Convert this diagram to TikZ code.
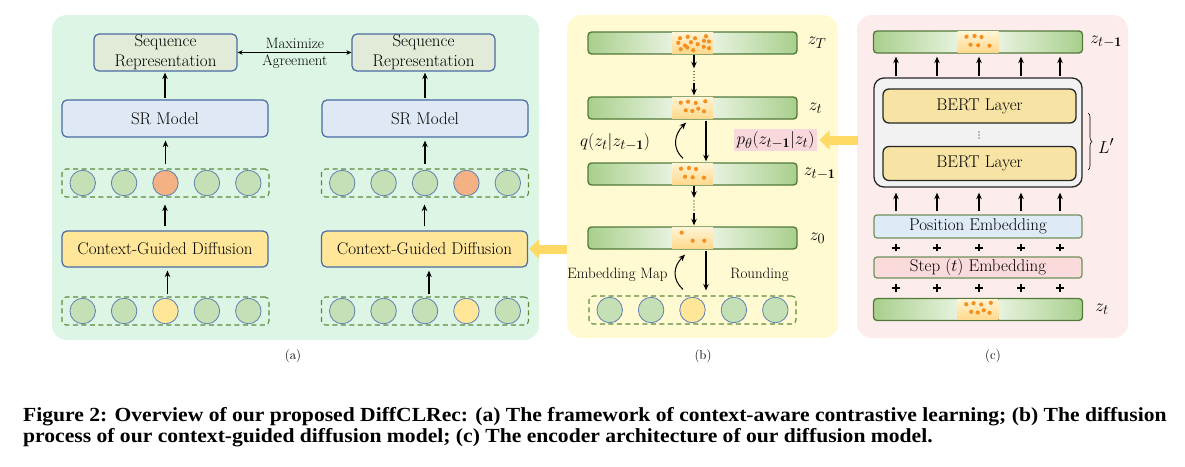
\documentclass[tikz,border=0pt]{standalone}
\usepackage{amsmath}
\usepackage{fontspec}
\newfontfamily\capfont{Liberation Serif}
\usetikzlibrary{arrows.meta,decorations.pathreplacing,calc}
\definecolor{bgA}{HTML}{DDF5E4}
\definecolor{bgB}{HTML}{FFFAD2}
\definecolor{bgC}{HTML}{FDECEC}
\definecolor{seqF}{HTML}{E2EBD7}
\definecolor{boxB}{HTML}{4A6BA3}
\definecolor{srF}{HTML}{DEE9F5}
\definecolor{cgdF}{HTML}{FFE699}
\definecolor{cGreen}{HTML}{C5E0B4}
\definecolor{cOrange}{HTML}{F4B183}
\definecolor{cYellow}{HTML}{FFE699}
\definecolor{cBorder}{HTML}{5F7FB3}
\definecolor{cDash}{HTML}{5B8A3C}
\definecolor{barG}{HTML}{A8CF8C}
\definecolor{barW}{HTML}{EAF4E2}
\definecolor{barB}{HTML}{52793A}
\definecolor{pTop}{HTML}{FFF4D4}
\definecolor{pBot}{HTML}{FFD98C}
\definecolor{cDot}{HTML}{F5901E}
\definecolor{pinkL}{HTML}{F9D8DC}
\definecolor{arrY}{HTML}{FFD966}
\definecolor{encF}{HTML}{F2F2F2}
\definecolor{bertF}{HTML}{F7E3A3}
\definecolor{posF}{HTML}{DEEBF7}
\definecolor{stepF}{HTML}{FADADB}
\definecolor{embB}{HTML}{6F9159}
\pgfdeclarehorizontalshading{barshade}{100bp}{color(0bp)=(barG); color(25bp)=(barG); color(46bp)=(barW); color(54bp)=(barW); color(75bp)=(barG); color(100bp)=(barG)}
\newcommand\tfont{\fontsize{17}{20}\selectfont}
\newcommand\mfont{\fontsize{19}{21}\selectfont}
\newcommand\sfont{\fontsize{15}{17}\selectfont}
\newcommand\itemrow[5]{%
  \node[dashrow] (#1) at (#2,#3) {};
  \foreach \i in {1,...,5}{%
    \ifnum\i=#4\relax\def\cc{#5}\else\def\cc{cGreen}\fi
    \node[circ, fill=\cc] (#1-\i) at ($(#1.center)+({(\i-3)*41.4},0)$) {};
  }}
\newcommand\zbar[4]{%
  \node[zbarsty] (#1) at (#2,#3) {};
  \fill[top color=pTop, bottom color=pBot] ($(#1.center)+(-20.5,-10.3)$) rectangle ($(#1.center)+(20.5,10.3)$);
  \foreach \dx/\dy in {#4}{\fill[cDot] ($(#1.center)+(\dx,\dy)$) circle[radius=2.1];}
}
\newcommand\plussign[1]{%
  \draw[line width=2pt] ([xshift=-3.8]#1.center) -- ([xshift=3.8]#1.center);
  \draw[line width=2pt] ([yshift=-3.8]#1.center) -- ([yshift=3.8]#1.center);
}
\begin{document}
\begin{tikzpicture}[x=1pt,y=-1pt,
  panel/.style={rounded corners=15pt, inner sep=0pt},
  basebox/.style={rounded corners=5pt, line width=1.2pt, inner sep=0pt, font=\tfont, align=center},
  seqbox/.style={basebox, draw=boxB, fill=seqF, minimum width=143pt, minimum height=37pt},
  srbox/.style={basebox, draw=boxB, fill=srF, minimum width=206pt, minimum height=37pt},
  cgdbox/.style={basebox, draw=boxB, fill=cgdF, minimum width=206pt, minimum height=36pt},
  dashrow/.style={draw=cDash, dash pattern=on 5pt off 3.5pt, line width=1.1pt, rounded corners=4pt, minimum width=207pt, minimum height=28pt, inner sep=0pt},
  circ/.style={circle, minimum size=25.5pt, inner sep=0pt, draw=cBorder, line width=0.8pt},
  zbarsty/.style={rounded corners=3.5pt, draw=barB, line width=1.3pt, minimum width=209pt, minimum height=22pt, inner sep=0pt, shade, shading=barshade},
  arr/.style={line width=1.2pt, -{Stealth[length=6.5pt,width=5.5pt]}},
  dblarr/.style={line width=0.8pt, {Stealth[length=5pt,width=4.5pt]}-{Stealth[length=5pt,width=4.5pt]}},
  blockarr/.style={draw=arrY, line width=9pt, -{Triangle[length=10pt,width=19pt]}},
  encbox/.style={rounded corners=10pt, draw=black!85, fill=encF, line width=1.3pt, minimum width=208pt, minimum height=109pt, inner sep=0pt},
  bertbox/.style={basebox, rounded corners=6pt, draw=black!85, fill=bertF, line width=1.3pt, minimum width=193pt, minimum height=34pt},
  embbox/.style={basebox, rounded corners=3pt, draw=embB, line width=1.2pt, minimum width=208pt},
  plus/.style={inner sep=0pt, minimum size=7pt},
  vd/.style={inner sep=0pt, minimum width=2pt, minimum height=14pt},
  sublab/.style={font=\fontsize{13}{15}\selectfont},
  mlab/.style={font=\mfont, inner sep=0pt},
  capline/.style={anchor=base west, inner sep=0pt, font=\capfont\bfseries\fontsize{20}{23}\selectfont}
]
\useasboundingbox (0,0) rectangle (1185,466);
\fill[white] (0,0) rectangle (1185,466);

% panels
\node[panel, fill=bgA, minimum width=487pt, minimum height=325pt] (pA) at (295.5,177.5) {};
\node[panel, fill=bgB, minimum width=271pt, minimum height=323pt] (pB) at (702.5,176.5) {};
\node[panel, fill=bgC, minimum width=271pt, minimum height=323pt] (pC) at (992.5,176.5) {};

% ---------- panel (a)
\node[seqbox] (sqL) at (165.5,52.5) {Sequence\\Representation};
\node[seqbox] (sqR) at (423.5,52.5) {Sequence\\Representation};
\draw[dblarr] (sqL) -- (sqR);
\node[font=\sfont, inner sep=0pt] (maxT) at (295,43) {Maximize};
\node[font=\sfont, inner sep=0pt] (agrT) at (295,62) {Agreement};
\node[srbox] (srL) at (165,118.5) {SR Model};
\node[srbox] (srR) at (425,118.5) {SR Model};
\itemrow{r1L}{165.5}{183}{3}{cOrange}
\itemrow{r1R}{425}{183}{4}{cOrange}
\node[cgdbox] (cgdL) at (165,249) {Context-Guided Diffusion};
\node[cgdbox] (cgdR) at (424.5,249) {Context-Guided Diffusion};
\itemrow{r0L}{165.5}{311}{3}{cYellow}
\itemrow{r0R}{425}{311}{4}{cYellow}

\draw[arr, shorten <=1.5pt, shorten >=1pt] (srL.north) -- (srL.north |- sqL.south);
\draw[arr, shorten <=1.5pt, shorten >=1pt] (srR.north) -- (srR.north |- sqR.south);
\draw[arr, shorten <=4pt, shorten >=3pt] (r1L-3.north |- r1L.north) -- (r1L-3.north |- srL.south);
\draw[arr, shorten <=4pt, shorten >=3pt] (r1R-3.north |- r1R.north) -- (r1R-3.north |- srR.south);
\draw[arr, shorten <=4pt, shorten >=7pt] (cgdL.north) -- (cgdL.north |- r1L.south);
\draw[arr, shorten <=4pt, shorten >=7pt] (cgdR.north) -- (cgdR.north |- r1R.south);
\draw[arr, shorten <=2pt, shorten >=3pt] ([xshift=2]r0L-3.north |- r0L.north) -- ([xshift=2]r0L-3.north |- cgdL.south);
\draw[arr, shorten <=2pt, shorten >=3pt] ([xshift=4]r0R-3.north |- r0R.north) -- ([xshift=4]r0R-3.north |- cgdR.south);

\node[sublab] (labA) at (293,356) {(a)};

% ---------- panel (b)
\zbar{zT}{692.5}{43}{-12.5/-4.8, -4.8/-6.2, 2.5/-4.8, 13.5/-6.8, -14.2/-0.2, -7.5/2.5, -1.5/-0.8, 5.2/1.2, 11.5/-2.2, 16.5/-1.5, -11.8/6.2, -5.2/4.5, 0.8/7.2, 11.2/3.8, 16.5/5.2}
\zbar{zt}{692.5}{108}{-11.8/-5.3, -4.5/-6.3, 3.2/-5, 12.8/-6.7, -6.8/2.3, -0.2/3, 5.8/0.7, 11.5/3.3}
\zbar{ztm}{692.5}{174}{-11.5/-5.3, -3.5/-6, 3.5/-5, -7.5/2.7, 0.2/3.3, 11.5/3.7}
\zbar{zz}{692.5}{238}{-10.8/-5.3, 0.2/2.7, 11.8/2.7}
\itemrow{rB}{692.5}{310}{3}{cYellow}

\node[mlab, anchor=west] (lzT) at ([xshift=10]zT.east) {$z_T$};
\node[mlab, anchor=west] (lzt) at ([xshift=11]zt.east) {$z_t$};
\node[mlab, anchor=west] (lztm) at ([xshift=6]ztm.east) {$z_{t-\mathbf{1}}$};
\node[mlab, anchor=west] (lzz) at ([xshift=12]zz.east) {$z_0$};

\node[vd] (vdA) at (694,76) {};
\foreach \k in {-4.5,-1.5,1.5,4.5} \fill ($(vdA.center)+(0,\k)$) circle[radius=0.7];
\draw[arr, shorten >=0.5pt] (vdA.north |- zT.south) -- (vdA.north);
\draw[arr, shorten >=1pt] (vdA.south) -- (vdA.south |- zt.north);
\node[vd] (vdB) at (694,205.5) {};
\foreach \k in {-4.5,-1.5,1.5,4.5} \fill ($(vdB.center)+(0,\k)$) circle[radius=0.7];
\draw[arr, shorten >=0.5pt] (vdB.north |- ztm.south) -- (vdB.north);
\draw[arr, shorten >=1pt] (vdB.south) -- (vdB.south |- zz.north);

\draw[arr, shorten <=1.5pt, shorten >=1pt] ([xshift=13.5]zt.south) -- ([xshift=13.5]ztm.north);
\draw[arr, line width=1pt] ([xshift=-9.5,yshift=4]ztm.north) .. controls +(-11,-10) and +(-12,12) .. ([xshift=-6.5,yshift=-3]zt.south);
\node[mlab] (qL) at (615,142) {$q(z_t|z_{t-\mathbf{1}})$};
\node[mlab, fill=pinkL, inner sep=2.5pt] (pL) at (775.5,140) {$p_\theta(z_{t-\mathbf{1}}|z_t)$};

\draw[arr, shorten <=1.5pt, shorten >=5pt] ([xshift=13.5]zz.south) -- ([xshift=13.5]zz.south |- rB.north);
\draw[arr, line width=1pt] ([xshift=-9.5,yshift=6]rB.north) .. controls +(-11,-10) and +(-12,12) .. ([xshift=-7.5,yshift=-5]zz.south);
\node[font=\sfont, inner sep=0pt] (emT) at (617.5,275) {Embedding Map};
\node[font=\sfont, inner sep=0pt] (rdT) at (759.5,275) {Rounding};

\node[sublab] (labB) at (703,356) {(b)};

% ---------- panel (c)
\zbar{tb}{978}{42}{-11.5/-5.3, -3.5/-6, 3.5/-5, -7.5/2.7, 0.2/3.3, 11.5/3.7}
\node[encbox] (enc) at (978,132.5) {};
\node[bertbox] (b1) at (979.5,106) {BERT Layer};
\node[bertbox] (b2) at (979.5,163.5) {BERT Layer};
\node[vd, minimum height=8pt] (vdC) at (979,135) {};
\foreach \k in {-3,0,3} \fill ($(vdC.center)+(0,\k)$) circle[radius=0.6];
\coordinate (brT) at (1088,113);
\coordinate (brB) at (1088,170);
\draw[line width=0.6pt, decorate, decoration={brace, amplitude=4pt}] (brT) -- (brB);
\node[mlab] (Lp) at (1106,146) {$L'$};
\node[embbox, fill=posF, minimum height=23pt] (pos) at (978,226.5) {Position Embedding};
\node[embbox, fill=stepF, minimum height=21pt] (stp) at (978,267.5) {Step ($t$) Embedding};
\zbar{bb}{978}{309.5}{-11.8/-5.3, -4.5/-6.3, 3.2/-5, 12.8/-6.7, -6.8/2.3, -0.2/3, 5.8/0.7, 11.5/3.3}
\node[mlab, anchor=west] (ltb) at ([xshift=7]tb.east) {$z_{t-\mathbf{1}}$};
\node[mlab, anchor=west] (lbb) at ([xshift=12]bb.east) {$z_t$};

\foreach \dx [count=\n] in {-82,-41,1,43,82}{
  \draw[arr, shorten <=1pt, shorten >=3pt] ([xshift=\dx]enc.north) -- ([xshift=\dx]tb.south);
  \draw[arr, shorten <=3pt, shorten >=5pt] ([xshift=\dx]pos.north) -- ([xshift=\dx]enc.south);
  \node[plus] (pa\n) at ($(pos.south)!0.5!(stp.north)+(\dx,0)$) {};
  \plussign{pa\n}
  \node[plus] (pb\n) at ($(stp.south)!0.5!(bb.north)+(\dx,0)$) {};
  \plussign{pb\n}
}
\node[sublab] (labC) at (993,356) {(c)};

% block arrows
\draw[blockarr] ([xshift=1]pC.west |- pL.east) -- ([xshift=2.5]pL.east);
\draw[blockarr] ([xshift=0.5]pB.west |- cgdR.east) -- ([xshift=1]cgdR.east);

% caption
\node[capline] (cap1) at (23,421) {\scalebox{1.08}[1]{Figure 2: Overview of our proposed DiffCLRec: (a) The framework of context-aware contrastive learning; (b) The diffusion}};
\node[capline] (cap2) at (23,442) {\scalebox{1.08}[1]{process of our context-guided diffusion model; (c) The encoder architecture of our diffusion model.}};
\end{tikzpicture}
\end{document}
